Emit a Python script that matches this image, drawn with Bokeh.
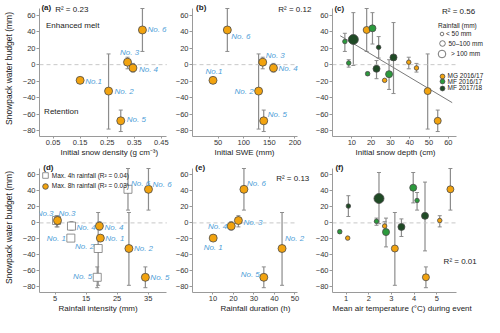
from bokeh.plotting import figure
from bokeh.layouts import gridplot
from bokeh.models import (ColumnDataSource, Whisker, TeeHead, Label, LabelSet, Title,
                          FixedTicker, Legend, LegendItem, Range1d)
from bokeh.core.properties import value
from bokeh.embed import file_html
from bokeh.resources import INLINE

FONT = "Liberation Sans"
NAN = float("nan")

# ---------------- data: six MG 2016/17 events ----------------
event_budget = [-19, -32, 3, -4, -68, 42]
event_low = [-19, -78, -5, -9, -81, 16]
event_high = [-19, 13, 9, 1.5, -55, 68]
snow_density = [0.15, 0.255, 0.325, 0.345, 0.30, 0.38]
initial_swe = [40, 129, 137, 158, 139, 68]
rain_4h = [10.1, 18.9, 5.5, 10.3, 18.6, 28.5]
rain_8h = [19.6, 28.8, 5.8, 19.3, 34.1, 35.1]
rain_duration = [10.1, 43.7, 22.4, 18.9, 34.8, 25.1]

labels_a = ["No.1", "No. 2", "No. 3", "No. 4", "No. 5", "No. 6"]
labels_b = ["No.1", "No. 2", "No. 3", "No. 4", "No. 5", "No. 6"]
labels_d4 = ["No. 1", "No. 2", "No.3", "No. 4", "No. 5", "No. 6"]
labels_d8 = ["No. 1", "No. 2", "No.3", "No. 4", "No. 5", "No. 6"]
labels_e = ["No. 1", "No. 2", "No. 3", "No. 4", "No. 5", "No. 6"]

# ---------------- data: all events, panels c and f ----------------
site_group = ["MG 2016/17"] * 6 + ["MF 2016/17"] * 5 + ["MF 2017/18"] * 4
site_depth = [27, 49.3, 39.5, 43.5, 54.5, 17.7, 6.4, 8.4, 18.2, 20.7, 29.3, 10.8, 23.9, 22.8, 31.6]
site_temp = [1.07, 3.15, 5.13, 2.7, 4.52, 5.6, 4.13, 2.34, 0.72, 3.96, 2.76, 2.45, 1.1, 3.44, 4.48]
site_budget = [-19, -32, 3, -4, -68, 42, 28, 2, -11, 44, -11.5, 30.5, 21, -5, 8.8]
site_low = [-19, -78, -5, -9, -81, 16, 16, -3, -13, 25, -30, -1, 8, -17, -35]
site_high = [-19, 13, 9, 1.5, -55, 68, 38, 6, -9, 63, 6, 63, 34, 5, 51]
site_rain = ["< 50 mm", "50–100 mm", "< 50 mm", "< 50 mm", "50–100 mm", "50–100 mm",
             "< 50 mm", "< 50 mm", "< 50 mm", "50–100 mm", "50–100 mm",
             "> 100 mm", "< 50 mm", "50–100 mm", "50–100 mm"]
groups = ["MG 2016/17", "MF 2016/17", "MF 2017/18"]
rain_classes = ["< 50 mm", "50–100 mm", "> 100 mm"]
trend_depth = [4, 62]
trend_budget = [35, -46]

y_ticks = [-80, -60, -40, -20, 0, 20, 40, 60]
Y_AXIS = (-87, 68)

# ---------------- styles ----------------
ORANGE = "#f2a30f"
COLORS = {"MG 2016/17": ORANGE, "MF 2016/17": "#2b9a3c", "MF 2017/18": "#1f4a25"}
SIZES = {"< 50 mm": 4.5, "50–100 mm": 7, "> 100 mm": 10}
OUTLINE = "#4a4a4a"
BAR = "#8c8c8c"
BLUE = "#4fa0d8"
TXT = "#222222"
AX = "#9a9a9a"


def make_fig(axis_x, x_end, xticks, width, height, bl, bb, y_top, xlabel, xoff, ylabel=None):
    p = figure(width=width, height=height, x_range=Range1d(axis_x[0], x_end),
               y_range=Range1d(Y_AXIS[0], y_top),
               output_backend="svg", toolbar_location=None,
               min_border_left=bl, min_border_right=0, min_border_top=0, min_border_bottom=bb)
    p.outline_line_color = None
    p.grid.grid_line_color = None
    p.xaxis.ticker = FixedTicker(ticks=xticks)
    p.yaxis.ticker = FixedTicker(ticks=y_ticks)
    p.xaxis.bounds = axis_x
    p.yaxis.bounds = Y_AXIS
    for ax in p.axis:
        ax.axis_line_color = AX
        ax.major_tick_line_color = AX
        ax.minor_tick_line_color = None
        ax.major_tick_in = 0
        ax.major_label_text_font = FONT
        ax.major_label_text_font_size = "7.5px"
        ax.major_label_text_color = "#333333"
        ax.axis_label_text_font = FONT
        ax.axis_label_text_font_size = "8.5px"
        ax.axis_label_text_font_style = "normal"
        ax.axis_label_text_color = TXT
    p.xaxis.major_tick_out = 2
    p.xaxis.major_label_standoff = 1
    p.yaxis.major_tick_out = 3
    p.yaxis.major_label_standoff = 1
    p.yaxis.axis_label_standoff = 6
    if ylabel:
        p.yaxis.axis_label = ylabel
    p.add_layout(Title(text=xlabel, align="left", offset=xoff, standoff=0,
                       vertical_align="top", text_font=FONT, text_font_size="8px",
                       text_font_style="normal", text_color=TXT), "below")
    # dashed zero reference line across the axis extent
    p.segment(x0=[axis_x[0]], x1=[axis_x[1]], y0=[0], y1=[0], line_color="#c8c8c8",
              line_dash="4 3", line_width=1)
    return p


def add_bars(p, xs, lows, highs):
    keep = [i for i in range(len(xs)) if lows[i] != highs[i]]
    src = ColumnDataSource(dict(x=[xs[i] for i in keep], lo=[lows[i] for i in keep],
                                hi=[highs[i] for i in keep]))
    p.add_layout(Whisker(source=src, base="x", lower="lo", upper="hi", dimension="height",
                         line_color=BAR, line_width=1.2,
                         upper_head=TeeHead(size=4, line_color=BAR, line_width=1),
                         lower_head=TeeHead(size=4, line_color=BAR, line_width=1)))


def add_labels(p, xs, ys, texts, aligns, dxs, dys):
    for al in ("left", "right", "center"):
        idx = [i for i, a in enumerate(aligns) if a == al]
        if not idx:
            continue
        src = ColumnDataSource(dict(x=[xs[i] for i in idx], y=[ys[i] for i in idx],
                                    t=[texts[i] for i in idx], dx=[dxs[i] for i in idx],
                                    dy=[dys[i] for i in idx]))
        p.add_layout(LabelSet(source=src, x="x", y="y", text="t", x_offset="dx", y_offset="dy",
                              text_align=al, text_baseline="middle", text_font=value(FONT),
                              text_font_size="8px", text_font_style="italic", text_color=BLUE))


def note(p, x, y, text, align="left", size="8px", style="normal"):
    p.add_layout(Label(x=x, y=y, text=text, text_align=align, text_baseline="middle",
                       text_font=FONT, text_font_size=size, text_font_style=style,
                       text_color=TXT))


def event_points(p, xs, marker="circle", fill=ORANGE, line=OUTLINE):
    src = ColumnDataSource(dict(x=xs, y=event_budget))
    return p.scatter("x", "y", source=src, size=8, marker=marker, fill_color=fill,
                     line_color=line, line_width=0.8)


def key(p, renderer, label, frame_h, cx, cy, box, text_x):
    """one legend entry whose symbol is centred at (cx, cy) px from the frame's top-left"""
    p.add_layout(Legend(items=[LegendItem(label=label, renderers=[renderer])],
                        location=(cx - box / 2, frame_h - cy - box / 2),
                        glyph_width=box, glyph_height=box, label_height=box,
                        label_standoff=int(round(text_x - cx - box / 2)),
                        padding=0, margin=0, spacing=0,
                        border_line_color=None, background_fill_alpha=0,
                        label_text_font=FONT, label_text_font_size="6.5px",
                        label_text_color=TXT))


YLAB = "Snowpack water budget (mm)"
TOP1 = 77.7   # range top of first row (room for panel letters)
TOP2 = 75.5   # range top of second row
H1, H2 = 136, 130   # frame heights of the two rows

# ---------------- (a) ----------------
pa = make_fig((0, 0.47), 0.491, [0.05, 0.15, 0.25, 0.35, 0.45], 172, 162, 32, 26, TOP1,
              "Initial snow density (g cm⁻³)", 21, YLAB)
add_bars(pa, snow_density, event_low, event_high)
event_points(pa, snow_density)
add_labels(pa, snow_density, event_budget, labels_a,
           ["left", "left", "center", "left", "left", "left"],
           [5, 6, 2, 6, 6, 5], [-1, 0, 10, -2, 1, 0])
note(pa, 0.007, 69, "(a)", style="bold")
note(pa, 0.058, 67, "R² = 0.23")
note(pa, 0.024, 47, "Enhanced melt")
note(pa, 0.017, -57, "Retention")

# ---------------- (b) ----------------
pb = make_fig((0, 204), 234.2, [50, 100, 150, 200], 140, 162, 16, 26, TOP1,
              "Initial SWE (mm)", 22)
add_bars(pb, initial_swe, event_low, event_high)
event_points(pb, initial_swe)
add_labels(pb, initial_swe, event_budget, labels_b,
           ["center", "right", "left", "left", "left", "left"],
           [1, -5, 3, 5, 4, 4], [9, 0, 7, -1, 6, -7])
note(pb, 7, 69, "(b)", style="bold")
note(pb, 232, 67, "R² = 0.12", align="right")

# ---------------- (c) ----------------
pc = make_fig((0, 64), 78.73, [10, 20, 30, 40, 50, 60], 172, 162, 17, 26, TOP1,
              "Initial snow depth (cm)", 23)
add_bars(pc, site_depth, site_low, site_high)
pc.line(trend_depth, trend_budget, line_color="#7a7a7a", line_width=1)
group_renderers = {}
for g in groups:
    idx = [i for i, s in enumerate(site_group) if s == g]
    src = ColumnDataSource(dict(x=[site_depth[i] for i in idx], y=[site_budget[i] for i in idx],
                                s=[SIZES[site_rain[i]] for i in idx]))
    group_renderers[g] = pc.scatter("x", "y", size="s", source=src, fill_color=COLORS[g],
                                    line_color=OUTLINE, line_width=0.8)
note(pc, 1, 68.5, "(c)", style="bold")
note(pc, 56.7, 64.5, "R² = 0.56")
note(pc, 54.7, 47.7, "Rainfall (mm)", size="6.5px")

size_key = {"< 50 mm": (33.3, 9), "50–100 mm": (43.3, 14), "> 100 mm": (53.3, 19)}
for cls in rain_classes:
    cy, box = size_key[cls]
    r = pc.scatter(x=[NAN], y=[NAN], size=SIZES[cls], fill_color="white",
                   line_color="#555555", line_width=0.8)
    key(pc, r, cls, H1, 109.5, cy, box, 113.4)
for g, cy in zip(groups, [75.5, 81.4, 87.6]):
    key(pc, group_renderers[g], g, H1, 109.5, cy, 12, 113.4)

# ---------------- (d) ----------------
pdd = make_fig((0, 41), 42.84, [5, 15, 25, 35], 172, 155, 32, 25, TOP2,
               "Rainfall intensity (mm)", 19, YLAB)
add_bars(pdd, rain_4h, event_low, event_high)
add_bars(pdd, rain_8h, event_low, event_high)
r4 = event_points(pdd, rain_4h, marker="square", fill="white", line="#777777")
r8 = event_points(pdd, rain_8h)
add_labels(pdd, rain_4h, event_budget, labels_d4,
           ["right", "right", "right", "left", "right", "left"],
           [-5, -4, -3, 5, -5, 3], [0, 2, 7, -1, 1, 6])
add_labels(pdd, rain_8h, event_budget, labels_d8,
           ["left", "left", "left", "left", "left", "left"],
           [5, 5, 1, 5, 5, 4], [0, 0, 7, -1, 0, 5])
note(pdd, 1.2, 69, "(d)", style="bold")
key(pdd, r4, "Max. 4h rainfall (R² = 0.04)", H2, 5.8, 13.2, 14, 9.6)
key(pdd, r8, "Max. 8h rainfall (R² = 0.03)", H2, 5.8, 23.6, 14, 9.6)

# ---------------- (e) ----------------
pe = make_fig((0, 51), 58.56, [10, 20, 30, 40, 50], 140, 155, 16, 25, TOP2,
              "Rainfall duration (h)", 28)
add_bars(pe, rain_duration, event_low, event_high)
event_points(pe, rain_duration)
add_labels(pe, rain_duration, event_budget, labels_e,
           ["center", "left", "left", "right", "right", "left"],
           [0, 3, 5, -4, -4, 3], [-9, 10, -2, 0, 3, 6])
note(pe, 1.35, 69, "(e)", style="bold")
note(pe, 57, 55.3, "R² = 0.13", align="right")

# ---------------- (f) ----------------
pf = make_fig((0.4, 5.85), 7.104, [1, 2, 3, 4, 5], 172, 155, 17, 25, TOP2,
              "Mean air temperature (°C) during event", 0)
add_bars(pf, site_temp, site_low, site_high)
for g in groups:
    idx = [i for i, s in enumerate(site_group) if s == g]
    src = ColumnDataSource(dict(x=[site_temp[i] for i in idx], y=[site_budget[i] for i in idx],
                                s=[SIZES[site_rain[i]] for i in idx]))
    pf.scatter("x", "y", size="s", source=src, fill_color=COLORS[g],
               line_color=OUTLINE, line_width=0.8)
note(pf, 0.53, 69, "(f)", style="bold")
note(pf, 5.3, -48, "R² = 0.01")

grid = gridplot([[pa, pb, pc], [pdd, pe, pf]], toolbar_location=None)
open("out.html", "w").write(file_html(grid, INLINE))
